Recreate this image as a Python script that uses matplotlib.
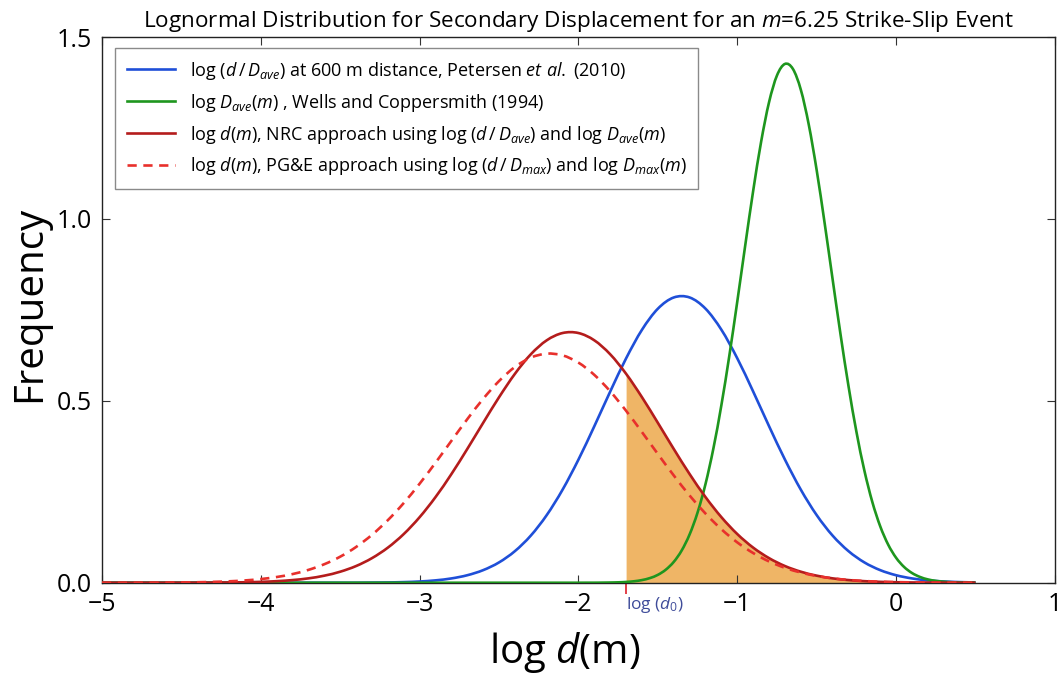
import numpy as np
import matplotlib
matplotlib.use('Agg')
import matplotlib.pyplot as plt
from matplotlib.ticker import FormatStrFormatter
from matplotlib.path import Path
from matplotlib.patches import PathPatch
from matplotlib.lines import Line2D

plt.rcParams['font.family'] = ['Open Sans', 'DejaVu Sans']
plt.rcParams['mathtext.fontset'] = 'custom'
plt.rcParams['mathtext.rm'] = 'Open Sans'
plt.rcParams['mathtext.it'] = 'Open Sans:italic'
plt.rcParams['mathtext.bf'] = 'Open Sans:bold'

# sampling positions of log d(m): 0.1 step for the wide curves, 0.05 for the narrow one
x_coarse = np.linspace(-5.0, 0.5, 56)
x_fine = np.linspace(-5.0, 0.5, 111)

# log(d/Dave) at 600 m, Petersen et al. (2010)
petersen = [0.0, 0.0, 0.0, 0.0, 0.0, 0.0, 0.0, 0.0, 0.0, 0.0,
            0.0, 0.0, 0.0, 0.0, 0.0, 0.0, 0.0, 0.0004, 0.0008, 0.0017,
            0.0034, 0.0065, 0.0118, 0.0206, 0.0346, 0.0559, 0.0869, 0.1296, 0.1858, 0.2558,
            0.3385, 0.4303, 0.5256, 0.6168, 0.6954, 0.7533, 0.7841, 0.7841, 0.7533, 0.6954,
            0.6168, 0.5256, 0.4303, 0.3385, 0.2558, 0.1858, 0.1296, 0.0869, 0.0559, 0.0346,
            0.0206, 0.0118, 0.0065, 0.0034, 0.0017, 0.0008]

# log Dave(m), Wells and Coppersmith (1994) -- flat zero below -2.0
wells = [0.0] * 60 + [
    0.0000, 0.0001, 0.0001, 0.0003, 0.0006, 0.0011, 0.0021, 0.0040, 0.0073, 0.0128,
    0.0217, 0.0359, 0.0573, 0.0887, 0.1330, 0.1931, 0.2716, 0.3701, 0.4885, 0.6244,
    0.7731, 0.9273, 1.0772, 1.2120, 1.3210, 1.3946, 1.4261, 1.4125, 1.3552, 1.2593,
    1.1336, 0.9883, 0.8346, 0.6827, 0.5410, 0.4151, 0.3086, 0.2222, 0.1550, 0.1047,
    0.0685, 0.0434, 0.0267, 0.0159, 0.0091, 0.0051, 0.0028, 0.0014, 0.0007, 0.0004,
    0.0002]

# log d(m), NRC approach
nrc = [0.0, 0.0, 0.0, 0.0, 0.0, 0.0001, 0.0002, 0.0004, 0.0007, 0.0013,
       0.0024, 0.0043, 0.0073, 0.0120, 0.0194, 0.0303, 0.0459, 0.0676, 0.0965, 0.1338,
       0.1802, 0.2354, 0.2986, 0.3677, 0.4395, 0.5099, 0.5743, 0.6279, 0.6663, 0.6864,
       0.6864, 0.6663, 0.6279, 0.5743, 0.5099, 0.4395, 0.3677, 0.2986, 0.2354, 0.1802,
       0.1338, 0.0965, 0.0676, 0.0459, 0.0303, 0.0194, 0.0120, 0.0073, 0.0043, 0.0024,
       0.0013, 0.0007, 0.0004, 0.0002, 0.0001, 0.0]

# log d(m), PG&E approach
pge = [0.0, 0.0, 0.0001, 0.0002, 0.0004, 0.0008, 0.0013, 0.0023, 0.0039, 0.0063,
       0.0101, 0.0157, 0.0238, 0.0353, 0.0509, 0.0716, 0.0983, 0.1317, 0.1720, 0.2191,
       0.2722, 0.3299, 0.3900, 0.4496, 0.5055, 0.5544, 0.5931, 0.6188, 0.6297, 0.6250,
       0.6050, 0.5713, 0.5261, 0.4726, 0.4140, 0.3538, 0.2949, 0.2397, 0.1901, 0.1470,
       0.1108, 0.0816, 0.0585, 0.0410, 0.0280, 0.0186, 0.0121, 0.0077, 0.0047, 0.0028,
       0.0017, 0.0010, 0.0005, 0.0003, 0.0002, 0.0001]

log_d0 = -1.7

labels = [r'log ($d\,/\,D_{ave}$) at 600 m distance, Petersen $et\ al.$ (2010)',
          r'log $D_{ave}$($m$) , Wells and Coppersmith (1994)',
          r'log $d$($m$), NRC approach using log ($d\,/\,D_{ave}$) and log $D_{ave}$($m$)',
          r'log $d$($m$), PG&E approach using log ($d\,/\,D_{max}$) and log $D_{max}$($m$)']


def smooth_path(xs, ys):
    # draw the tabulated points as a Catmull-Rom curve (bezier segments through every point)
    pts = np.column_stack([np.asarray(xs, float), np.asarray(ys, float)])
    ext = np.vstack([pts[0], pts, pts[-1]])
    verts = [pts[0]]
    codes = [Path.MOVETO]
    for i in range(len(pts) - 1):
        p0, p1, p2, p3 = ext[i], ext[i + 1], ext[i + 2], ext[i + 3]
        verts += [p1 + (p2 - p0) / 6, p2 - (p3 - p1) / 6, p2]
        codes += [Path.CURVE4] * 3
    return Path(verts, codes)


fig = plt.figure(figsize=(10.61, 6.75), dpi=100)
ax = fig.add_axes([0.0961, 0.1367, 0.8982, 0.8084])

# shaded exceedance area under the NRC curve
nrc_arr = np.array(nrc)
mask = x_coarse >= log_d0 - 1e-9
ax.fill_between(x_coarse[mask], 0, nrc_arr[mask], color='#EFB566', lw=0, zorder=1)

styles = [dict(color='#1F4FD8', lw=1.9, ls='-'),
          dict(color='#1E961E', lw=1.9, ls='-'),
          dict(color='#B41C1C', lw=1.9, ls='-'),
          dict(color='#E8302C', lw=1.9, ls=(0, (3.5, 2.5)))]
series = [(x_coarse, petersen), (x_fine, wells), (x_coarse, nrc), (x_coarse, pge)]

handles = []
for (xs, ys), st, z in zip(series, styles, [3, 3, 4, 4]):
    patch = PathPatch(smooth_path(xs, ys), fill=False, edgecolor=st['color'],
                      lw=st['lw'], ls=st['ls'], capstyle='butt', zorder=z)
    ax.add_patch(patch)
    handles.append(Line2D([], [], color=st['color'], lw=st['lw'], ls=st['ls']))

ax.set_xlim(-5, 1)
ax.set_ylim(0, 1.5)
ax.set_xticks([-5, -4, -3, -2, -1, 0, 1])
ax.set_yticks([0, 0.5, 1.0, 1.5])
ax.yaxis.set_major_formatter(FormatStrFormatter('%.1f'))
ax.tick_params(which='major', direction='in', top=True, right=True, length=6,
               width=0.8, labelsize=18, pad=7, color='#333333')

# log(d0) marker under the axis
ax.set_xticks([log_d0], minor=True)
ax.set_xticklabels([r'log ($d_{\mathit{0}}$)'], minor=True)
ax.tick_params(axis='x', which='minor', direction='out', length=8, width=1.3,
               color='#E0303A', top=False, bottom=True, labelsize=12.5,
               labelcolor='#3F4C9A', pad=1)
for lbl in ax.get_xticklabels(minor=True):
    lbl.set_horizontalalignment('left')

for s in ax.spines.values():
    s.set_color('#222222')
    s.set_linewidth(1.0)

ax.set_title(r'Lognormal Distribution for Secondary Displacement for an $m$=6.25 Strike-Slip Event',
             fontsize=16.2, pad=7)
ax.set_xlabel(r'log $d$(m)', fontsize=29)
ax.xaxis.set_label_coords(0.486, -0.086)
ax.set_ylabel('Frequency', fontsize=29)
ax.yaxis.set_label_coords(-0.054, 0.51)

leg = ax.legend(handles, labels, loc='upper left', bbox_to_anchor=(0.0136, 0.98),
                borderaxespad=0, fontsize=13, frameon=True, fancybox=False,
                edgecolor='#8a8a8a', framealpha=1, handlelength=2.7,
                handletextpad=0.8, labelspacing=0.55, borderpad=0.65)
leg.get_frame().set_linewidth(1.0)

fig.savefig('out.png', dpi=100)
